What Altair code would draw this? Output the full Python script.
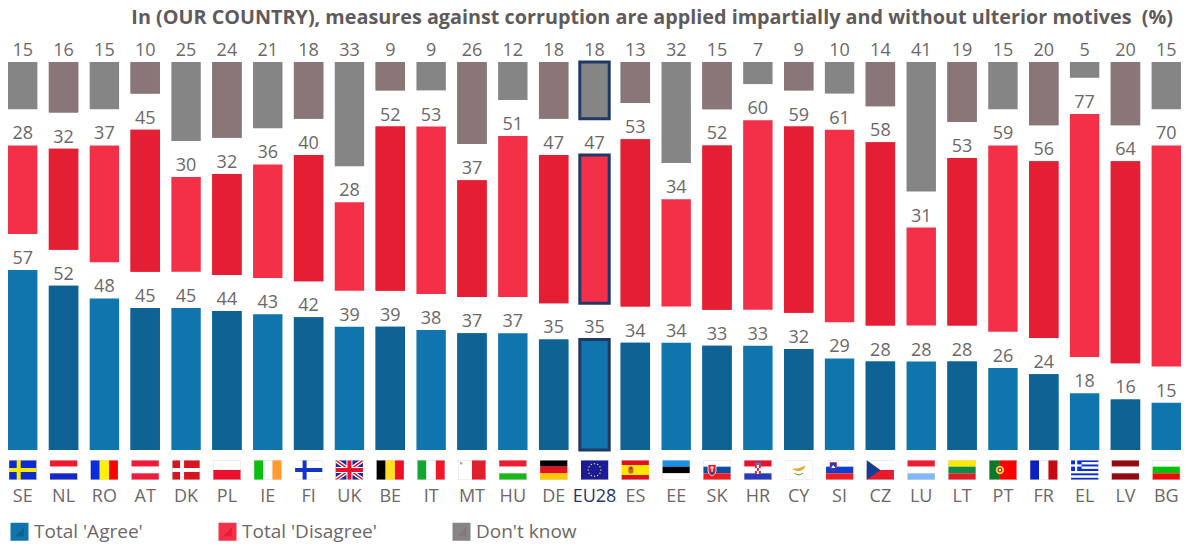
import math
import urllib.parse
import altair as alt
import pandas as pd

codes = ["SE","NL","RO","AT","DK","PL","IE","FI","UK","BE","IT","MT","HU","DE","EU28","ES","EE","SK","HR","CY","SI","CZ","LU","LT","PT","FR","EL","LV","BG"]
agree = [57,52,48,45,45,44,43,42,39,39,38,37,37,35,35,34,34,33,33,32,29,28,28,28,26,24,18,16,15]
disagree = [28,32,37,45,30,32,36,40,28,52,53,37,51,47,47,53,34,52,60,59,61,58,31,53,59,56,77,64,70]
dont_know = [15,16,15,10,25,24,21,18,33,9,9,26,12,18,18,13,32,15,7,9,10,14,41,19,15,20,5,20,15]

series_names = ["Total 'Agree'", "Total 'Disagree'", "Don't know"]
light_colors = ["#1075ad", "#f33047", "#858585"]
dark_colors = ["#0e6394", "#e41f34", "#8a7678"]
TEXT = "#6d6769"
NAVY = "#1f3864"
GAP = 11.43
FONT = "Open Sans"


def wrap(body):
    svg = ('<svg xmlns="http://www.w3.org/2000/svg" width="28" height="20" viewBox="0 0 28 20">'
           + body + '<rect x="0.25" y="0.25" width="27.5" height="19.5" fill="none" stroke="#e0dcdc" stroke-width="0.5"/></svg>')
    return "data:image/svg+xml," + urllib.parse.quote(svg)


def r(x, y, w, h, c):
    return f'<rect x="{x}" y="{y}" width="{w}" height="{h}" fill="{c}"/>'


def h(*cs):
    s = 20 / len(cs)
    return "".join(r(0, i * s, 28, s, c) for i, c in enumerate(cs))


def v(*cs):
    s = 28 / len(cs)
    return "".join(r(i * s, 0, s, 20, c) for i, c in enumerate(cs))


def nordic(bg, cross):
    return r(0, 0, 28, 20, bg) + r(8, 0, 4, 20, cross) + r(0, 8, 28, 4, cross)


stars = "".join(
    f'<circle cx="{14 + 6.3 * math.cos(i * 0.5236):.2f}" cy="{10 + 6.3 * math.sin(i * 0.5236):.2f}" r="0.75" fill="#e8d820"/>'
    for i in range(12)
)
uk = (r(0, 0, 28, 20, "#1a2a9a")
      + '<path d="M0 0L28 20M28 0L0 20" stroke="#fff" stroke-width="4"/>'
      + '<path d="M0 0L28 20M28 0L0 20" stroke="#e8112d" stroke-width="1.5"/>'
      + r(11, 0, 6, 20, "#fff") + r(0, 7, 28, 6, "#fff")
      + r(12, 0, 4, 20, "#e8112d") + r(0, 8, 28, 4, "#e8112d"))
greece = ("".join(r(0, i * 20 / 9, 28, 20 / 9, "#0d2fd0" if i % 2 == 0 else "#ffffff") for i in range(9))
          + r(0, 0, 11, 11, "#0d2fd0") + r(4.4, 0, 2.2, 11, "#fff") + r(0, 4.4, 11, 2.2, "#fff"))
portugal = (r(0, 0, 11, 20, "#0a7a2a") + r(11, 0, 17, 20, "#ff0000")
            + '<circle cx="11" cy="10" r="4.2" fill="#e8d040"/><circle cx="11" cy="10" r="2.4" fill="#c03020"/><circle cx="11" cy="10" r="1.2" fill="#f0f0f0"/>')
spain = (h("#e0101c", "#ffe800", "#ffe800", "#e0101c")
         + '<rect x="7" y="6.5" width="5" height="7" rx="2" fill="#c8622a"/><circle cx="9.5" cy="8" r="1.2" fill="#a03020"/>')
slovakia = (h("#ffffff", "#0b4ea2", "#ee1c25")
            + '<path d="M5 4.5H13V11C13 14 9 16 9 16C9 16 5 14 5 11Z" fill="#e81828" stroke="#fff" stroke-width="0.8"/>'
            + r(8.4, 6, 1.2, 6, "#fff") + r(7, 7.3, 4, 1, "#fff") + '<circle cx="9" cy="13.3" r="1.5" fill="#1848b0"/>')
croatia = (h("#e8112d", "#ffffff", "#2a3ab8")
           + r(11, 5, 6, 9, "#ffffff") + r(11, 5, 2, 3, "#d8283c") + r(15, 5, 2, 3, "#d8283c") + r(13, 8, 2, 3, "#d8283c")
           + r(11, 11, 2, 3, "#d8283c") + r(15, 11, 2, 3, "#d8283c") + r(11, 2.5, 6, 2.5, "#6070b8"))
cyprus = (r(0, 0, 28, 20, "#ffffff")
          + '<path d="M7 9C10 8 13 9 16 7.5L21 5.5C20 8 18 10.5 15 11C12 11.5 10 10 7 9Z" fill="#e8a82a"/>'
          + '<path d="M10 13C12 15.5 16 15.5 18 13" fill="none" stroke="#6ca63a" stroke-width="1.2"/>')
slovenia = (h("#ffffff", "#0b3fcf", "#ee1c25")
            + '<path d="M4.5 2.5H11V8C11 10 7.7 11 7.7 11C7.7 11 4.5 10 4.5 8Z" fill="#1040c0" stroke="#e82030" stroke-width="0.6"/>'
            + '<path d="M5.5 8L7.7 5L10 8Z" fill="#fff"/>')
czech = (h("#ffffff", "#e81b2c") + '<path d="M0 0L14 10L0 20Z" fill="#123f94"/>')
eu = r(0, 0, 28, 20, "#1a1a9a") + stars
malta = (v("#ffffff", "#e0202c") + r(2, 2, 2.5, 2.5, "#b0b0b0"))

flag_svgs = {
    "SE": nordic("#0a2ccc", "#ffe800"), "NL": h("#f0182c", "#ffffff", "#1428c8"), "RO": v("#0a2ce0", "#fff000", "#ff0000"),
    "AT": h("#ee1c3a", "#ffffff", "#ee1c3a"), "DK": nordic("#d8141e", "#ffffff"), "PL": h("#ffffff", "#ee1030"),
    "IE": v("#08c010", "#ffffff", "#ff9a30"), "FI": nordic("#ffffff", "#1234c8"), "UK": uk, "BE": v("#000000", "#ffe020", "#ee1020"),
    "IT": v("#10a830", "#ffffff", "#f01828"), "MT": malta, "HU": h("#ee1c30", "#ffffff", "#18b818"),
    "DE": h("#000000", "#e8101c", "#ffc800"), "EU28": eu, "ES": spain, "EE": h("#1890e8", "#000000", "#ffffff"),
    "SK": slovakia, "HR": croatia, "CY": cyprus, "SI": slovenia, "CZ": czech,
    "LU": h("#ee1c30", "#ffffff", "#80b8f8"), "LT": h("#ffe800", "#0d8a4a", "#e01c24"), "PT": portugal,
    "FR": v("#0a20c0", "#ffffff", "#c80810"), "EL": greece, "LV": h("#960a14", "#ffffff", "#960a14"),
    "BG": h("#ffffff", "#08c008", "#f00808"),
}

rows = []
for i, code in enumerate(codes):
    lo = 0
    for k, vals in enumerate([agree, disagree, dont_know]):
        rows.append({
            "code": code, "idx": i, "value": vals[i], "series": series_names[k],
            "series_dark": series_names[k] + " ", "y0": lo, "y1": lo + vals[i],
        })
        lo += vals[i] + GAP
df = pd.DataFrame(rows)
flags = pd.DataFrame({"code": codes, "flag": [wrap(flag_svgs[c]) for c in codes], "base": [0] * len(codes)})

x = alt.X("code:N", sort=codes, title=None,
          scale=alt.Scale(paddingInner=0.28, paddingOuter=0),
          axis=alt.Axis(domain=False, ticks=False, labelAngle=0, labelPadding=46,
                        labelFont=FONT, labelFontSize=18, labelBaseline="middle",
                        labelColor=alt.expr(f"datum.value == 'EU28' ? '{NAVY}' : '{TEXT}'")))
y = alt.Y("y0:Q", title=None, scale=alt.Scale(domain=[0, 100 + 2 * GAP], nice=False, zero=False), axis=None)
y2 = alt.Y2("y1:Q")

legend_common = dict(orient="none", legendX=2, legendY=460, direction="horizontal", columns=3,
                     columnPadding=75, labelOffset=5, symbolSize=324, symbolStrokeWidth=0,
                     labelFont=FONT, labelFontSize=19, labelColor=TEXT, title=None, symbolOpacity=1)

light = alt.Chart(df).mark_bar().encode(
    x=x, y=y, y2=y2,
    color=alt.Color("series:N", sort=series_names,
                    scale=alt.Scale(domain=series_names, range=light_colors),
                    legend=alt.Legend(symbolType="square", **legend_common)),
)
dark_names = [s + " " for s in series_names]
dark = alt.Chart(df[df.idx % 2 == 1]).mark_bar().encode(
    x=x, y=y, y2=y2,
    fill=alt.Fill("series_dark:N", sort=dark_names,
                  scale=alt.Scale(domain=dark_names, range=dark_colors),
                  legend=alt.Legend(symbolType="M0.5,-0.5L0.5,0.5L-0.5,0.5Z", labelOpacity=0, zindex=1, **legend_common)),
)
outline = alt.Chart(df[df.code == "EU28"]).mark_bar(fill="transparent", stroke=NAVY, strokeWidth=3).encode(
    x=x, y=y, y2=y2,
)
labels = alt.Chart(df).mark_text(baseline="bottom", dy=-2, font=FONT, fontSize=18, color=TEXT).encode(
    x=x, y=alt.Y("y1:Q"), text="value:Q",
)
flag_marks = alt.Chart(flags).mark_image(width=28, height=20, align="center", baseline="top", yOffset=10).encode(
    x=x, y=alt.Y("base:Q"), url="flag:N",
)

chart = (
    alt.layer(light, dark, outline, labels, flag_marks)
    .resolve_scale(color="independent")
    .properties(
        width=1173, height=388,
        padding=alt.Padding(left=0, top=0, right=0, bottom=6),
        title=alt.TitleParams(
            "In (OUR COUNTRY), measures against corruption are applied impartially and without ulterior motives\u00a0\u00a0(%)",
            anchor="end", font=FONT, fontSize=19.8, fontWeight="bold", color="#5f5a5c", offset=14, dx=-8,
        ),
    )
    .configure_view(stroke=None)
)
chart.save("out.html", embed_options={"renderer": "svg", "actions": False})
